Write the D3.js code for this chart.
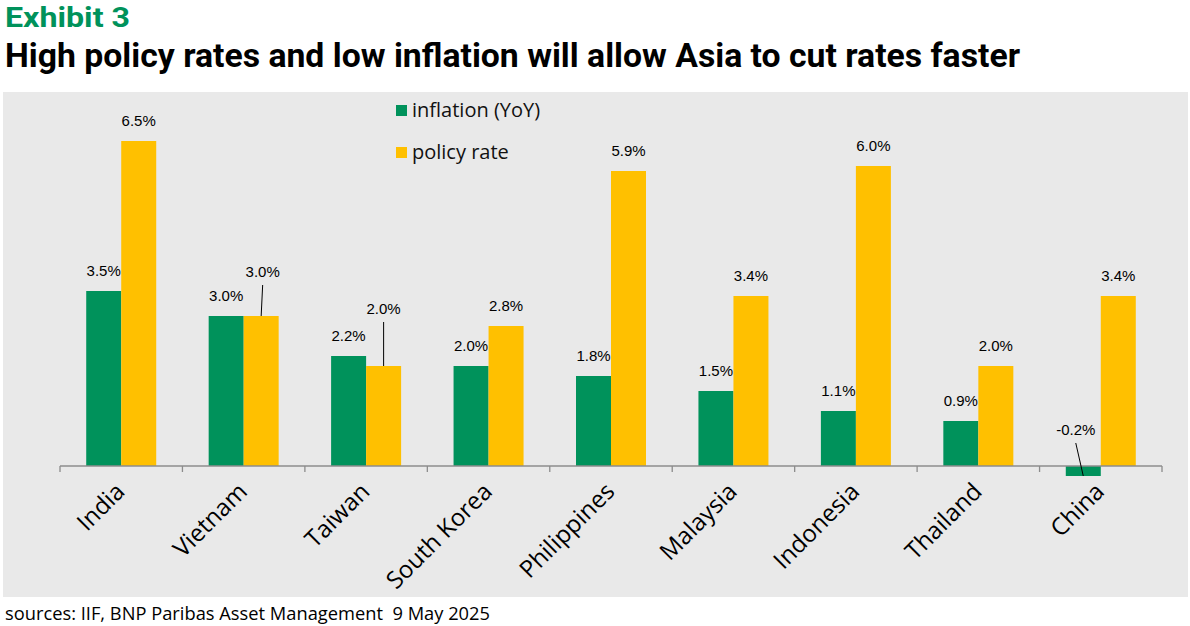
<!DOCTYPE html>
<html>
<head>
<meta charset="utf-8">
<script src="https://cdn.jsdelivr.net/npm/d3@7"></script>
<style>
  body { margin: 0; background: #fff; }
  svg { display: block; }
</style>
</head>
<body>
<div id="chart"></div>
<script>
const countries = ["India", "Vietnam", "Taiwan", "South Korea", "Philippines",
                   "Malaysia", "Indonesia", "Thailand", "China"];
const inflation = [3.5, 3.0, 2.2, 2.0, 1.8, 1.5, 1.1, 0.9, -0.2];
const policyRate = [6.5, 3.0, 2.0, 2.8, 5.9, 3.4, 6.0, 2.0, 3.4];
const seriesNames = ["inflation (YoY)", "policy rate"];

const width = 1190;
const height = 626;
const green = "#00925B";
const yellow = "#FFC000";

const svg = d3.select("#chart").append("svg")
    .attr("width", width)
    .attr("height", height);

// titles
svg.append("text")
    .attr("x", 5).attr("y", 27)
    .attr("font-family", "Roboto").attr("font-weight", 700)
    .attr("font-size", 28).attr("fill", green)
    .attr("textLength", 125).attr("lengthAdjust", "spacingAndGlyphs")
    .text("Exhibit 3");

svg.append("text")
    .attr("x", 5).attr("y", 67)
    .attr("font-family", "Roboto").attr("font-weight", 700)
    .attr("font-size", 33).attr("fill", "#000")
    .attr("textLength", 1015).attr("lengthAdjust", "spacingAndGlyphs")
    .text("High policy rates and low inflation will allow Asia to cut rates faster");

// grey plot panel
svg.append("rect")
    .attr("x", 3).attr("y", 92)
    .attr("width", 1185).attr("height", 505)
    .attr("fill", "#E9E9E9");

// scales
const x = d3.scaleBand().domain(countries).range([60, 1162]).padding(0);
const barW = 35;
const x1 = d3.scaleBand().domain([0, 1])
    .range([(x.bandwidth() - 2 * barW) / 2, (x.bandwidth() + 2 * barW) / 2]);
const y = d3.scaleLinear().domain([0, 6.5]).range([466, 141]);
const colors = d3.scaleOrdinal().domain([0, 1]).range([green, yellow]);

// flat list of bars
const bars = [];
countries.forEach((c, i) => {
    bars.push({ country: c, s: 0, value: inflation[i] });
    bars.push({ country: c, s: 1, value: policyRate[i] });
});

svg.append("g").selectAll("rect")
    .data(bars)
    .enter().append("rect")
    .attr("x", d => x(d.country) + x1(d.s))
    .attr("width", x1.bandwidth())
    .attr("y", d => y(Math.max(0, d.value)))
    .attr("height", d => Math.abs(y(d.value) - y(0)))
    .attr("fill", d => colors(d.s));

// axis line with ticks between categories
const axis = svg.append("g");
axis.append("line")
    .attr("x1", x.range()[0]).attr("x2", x.range()[1])
    .attr("y1", y(0)).attr("y2", y(0))
    .attr("stroke", "#8c8c8c").attr("stroke-width", 1.3);
axis.selectAll(".tick")
    .data(countries.map(c => x(c)).concat([x.range()[1]]))
    .enter().append("line")
    .attr("x1", d => d).attr("x2", d => d)
    .attr("y1", y(0)).attr("y2", y(0) + 6)
    .attr("stroke", "#8c8c8c").attr("stroke-width", 1.3);

// category labels, rotated
axis.selectAll(".cat")
    .data(countries)
    .enter().append("text")
    .attr("transform", d => `translate(${x(d) + x.bandwidth() / 2 + 5},${y(0) + 27}) rotate(-45)`)
    .attr("text-anchor", "end")
    .attr("font-family", "Open Sans")
    .attr("font-size", 24)
    .attr("fill", "#000")
    .text(d => d);

// data labels; a few are lifted and tied back with a leader line
const lifted = {
    "Vietnam-1": { dx: 1.5, lift: 39 },
    "Taiwan-1": { dx: 0, lift: 52 },
    "China-0": { dx: -7.5, lift: 31 }
};
const fmt = v => d3.format(".1f")(v).replace("\u2212", "-") + "%";
const labels = svg.append("g");
bars.forEach(d => {
    const cx = x(d.country) + x1(d.s) + x1.bandwidth() / 2;
    const key = d.country + "-" + d.s;
    const opt = lifted[key] || { dx: 0, lift: 15 };
    const base = y(Math.max(0, d.value)) - opt.lift;
    labels.append("text")
        .attr("x", cx + opt.dx).attr("y", base)
        .attr("text-anchor", "middle")
        .attr("font-family", "Liberation Sans")
        .attr("font-size", 15)
        .attr("fill", "#000")
        .text(fmt(d.value));
    if (lifted[key]) {
        labels.append("line")
            .attr("x1", cx + opt.dx).attr("y1", base + 8)
            .attr("x2", cx).attr("y2", y(d.value))
            .attr("stroke", "#000").attr("stroke-width", 1);
    }
});

// legend
const legend = svg.append("g").attr("transform", "translate(396,0)");
seriesNames.forEach((name, i) => {
    const ly = 110 + i * 42;
    legend.append("rect")
        .attr("x", 0).attr("y", ly - 5)
        .attr("width", 11).attr("height", 11)
        .attr("fill", colors(i));
    legend.append("text")
        .attr("x", 16).attr("y", ly + 7)
        .attr("font-family", "Open Sans")
        .attr("font-size", 20)
        .attr("fill", "#111")
        .text(name);
});

// source line
svg.append("text")
    .attr("x", 5).attr("y", 620)
    .attr("font-family", "Open Sans")
    .attr("font-size", 18)
    .attr("fill", "#000")
    .attr("textLength", 485).attr("lengthAdjust", "spacingAndGlyphs")
    .style("white-space", "pre")
    .text("sources: IIF, BNP Paribas Asset Management  9 May 2025");
</script>
</body>
</html>
